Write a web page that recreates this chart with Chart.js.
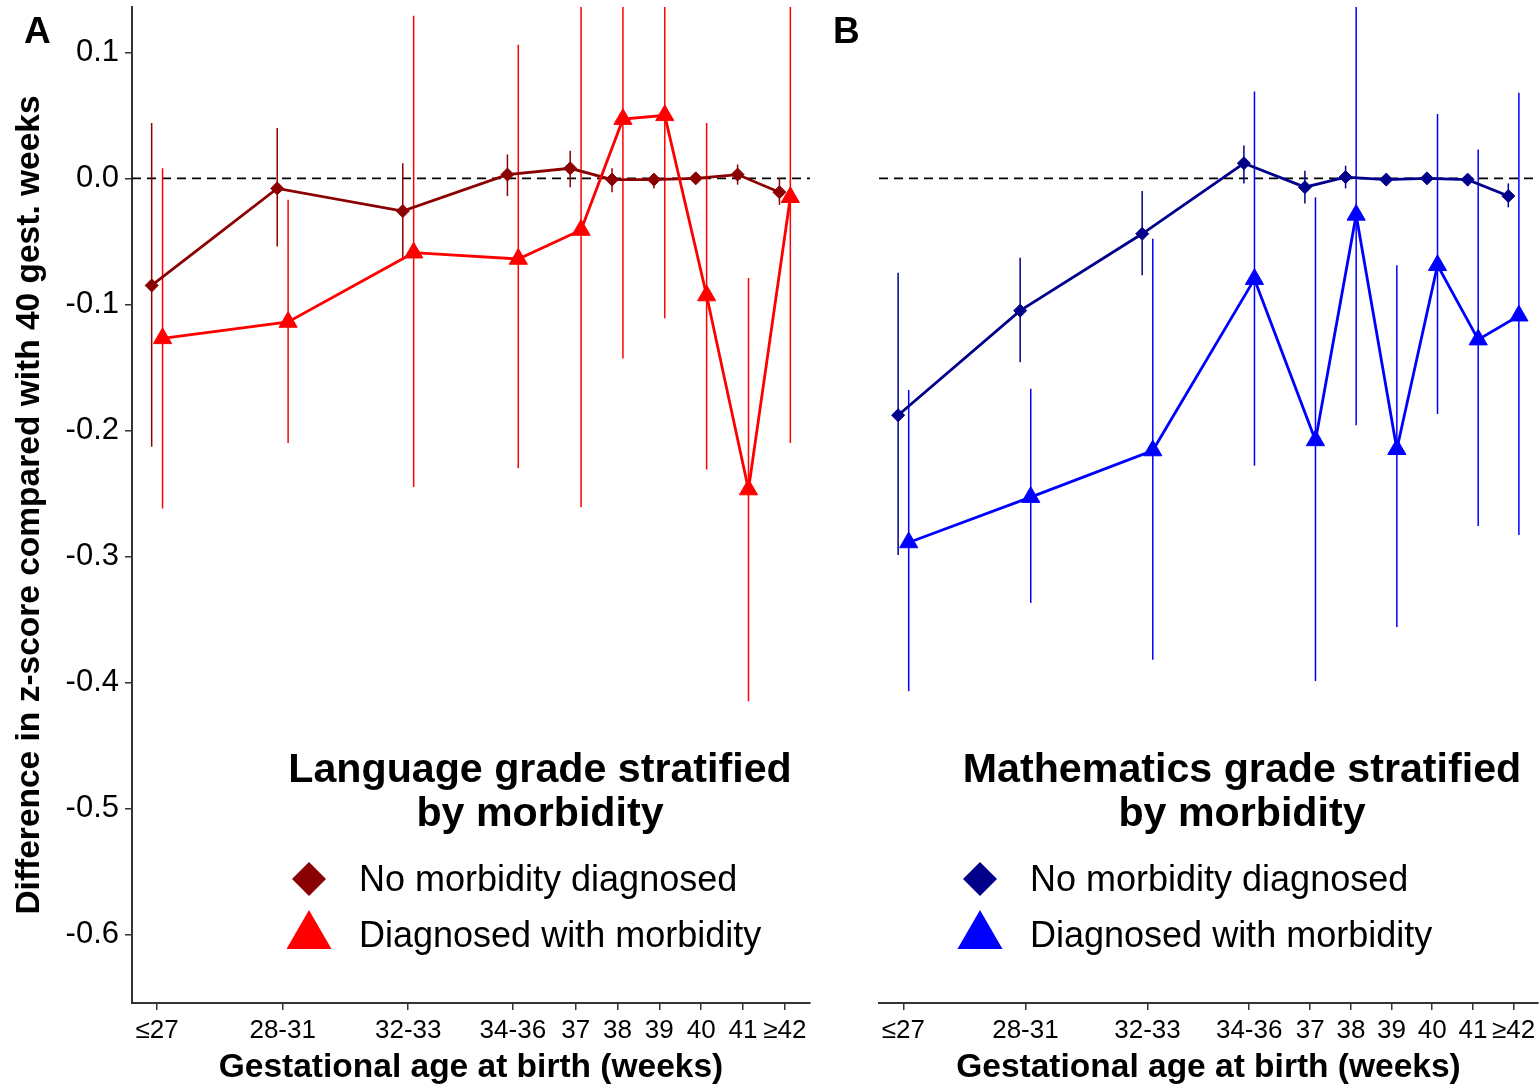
<!DOCTYPE html>
<html>
<head>
<meta charset="utf-8">
<title>Gestational age and school grades by morbidity</title>
<script src="https://cdn.jsdelivr.net/npm/chart.js@4.4.1/dist/chart.umd.min.js"></script>
<style>
  html, body { margin: 0; padding: 0; background: #ffffff; }
  #wrap { position: relative; width: 1540px; height: 1088px; overflow: hidden; }
  canvas { position: absolute; top: 0; }
  #panelA { left: 0; }
  #panelB { left: 820px; }
</style>
</head>
<body>
<div id="wrap">
  <canvas id="panelA" width="820" height="1088"></canvas>
  <canvas id="panelB" width="720" height="1088"></canvas>
</div>
<script>
// Gestational age groups and where each group sits on the week axis
const ageLabels = ['≤27', '28-31', '32-33', '34-36', '37', '38', '39', '40', '41', '≥42'];
const agePos = [27, 30, 33, 35.5, 37, 38, 39, 40, 41, 42];
const yTickValues = [0.1, 0.0, -0.1, -0.2, -0.3, -0.4, -0.5, -0.6];

// Panel A: language grade, difference in z-score vs 40 weeks (estimate, 95% CI)
const langNoMorb   = [-0.085, -0.008, -0.026, 0.003, 0.008, -0.001, -0.001, 0.000, 0.003, -0.011];
const langNoMorbLo = [-0.213, -0.054, -0.063, -0.014, -0.007, -0.011, -0.008, -0.003, -0.005, -0.021];
const langNoMorbHi = [0.044, 0.040, 0.012, 0.019, 0.022, 0.008, 0.004, 0.003, 0.011, 0.000];
const langMorb     = [-0.127, -0.114, -0.059, -0.064, -0.041, 0.047, 0.050, -0.093, -0.247, -0.015];
const langMorbLo   = [-0.262, -0.210, -0.245, -0.230, -0.261, -0.143, -0.111, -0.231, -0.415, -0.210];
const langMorbHi   = [0.008, -0.017, 0.129, 0.106, 0.180, 0.240, 0.215, 0.044, -0.079, 0.185];

// Panel B: mathematics grade
const mathNoMorb   = [-0.188, -0.105, -0.044, 0.012, -0.007, 0.001, -0.001, 0.000, -0.001, -0.014];
const mathNoMorbLo = [-0.299, -0.146, -0.077, -0.004, -0.020, -0.008, -0.005, -0.003, -0.006, -0.023];
const mathNoMorbHi = [-0.075, -0.063, -0.010, 0.026, 0.006, 0.010, 0.004, 0.003, 0.003, -0.004];
const mathMorb     = [-0.289, -0.253, -0.216, -0.080, -0.208, -0.029, -0.215, -0.069, -0.128, -0.109];
const mathMorbLo   = [-0.407, -0.337, -0.382, -0.228, -0.399, -0.196, -0.356, -0.187, -0.276, -0.283];
const mathMorbHi   = [-0.168, -0.167, -0.048, 0.069, -0.015, 0.143, -0.069, 0.051, 0.023, 0.068];

const seriesNames = ['No morbidity diagnosed', 'Diagnosed with morbidity'];

const FONT = "'Liberation Sans', Arial, Helvetica, sans-serif";
const DODGE = 0.13;          // horizontal offset (weeks) between the two groups
const AXIS_COLOR = '#333333';

// keep tick labels from pushing the plot area inwards
function noLabelPadding(s) {
  s.paddingLeft = 0;
  s.paddingRight = 0;
  s.paddingTop = 0;
  s.paddingBottom = 0;
}

// dashed reference line at zero
const zeroLine = {
  id: 'zeroLine',
  beforeDatasetsDraw(chart) {
    const { ctx, chartArea: a, scales: { y } } = chart;
    const py = y.getPixelForValue(0);
    ctx.save();
    ctx.strokeStyle = '#000000';
    ctx.lineWidth = 1.6;
    ctx.setLineDash([9, 6]);
    ctx.beginPath();
    ctx.moveTo(a.left, py);
    ctx.lineTo(a.right, py);
    ctx.stroke();
    ctx.restore();
  }
};

// vertical confidence-interval bars, drawn from each dataset's lo/hi arrays
const errorBars = {
  id: 'errorBars',
  beforeDatasetsDraw(chart) {
    const { ctx, chartArea: a, scales: { x, y } } = chart;
    ctx.save();
    ctx.beginPath();
    ctx.rect(a.left, a.top, a.right - a.left, a.bottom - a.top);
    ctx.clip();
    chart.data.datasets.forEach(ds => {
      ctx.strokeStyle = ds.borderColor;
      ctx.lineWidth = 1.5;
      ds.data.forEach((pt, i) => {
        const px = x.getPixelForValue(pt.x);
        ctx.beginPath();
        ctx.moveTo(px, y.getPixelForValue(ds.ciLow[i]));
        ctx.lineTo(px, y.getPixelForValue(ds.ciHigh[i]));
        ctx.stroke();
      });
    });
    ctx.restore();
  }
};

function diamond(ctx, cx, cy, r) {
  ctx.beginPath();
  ctx.moveTo(cx, cy - r);
  ctx.lineTo(cx + r, cy);
  ctx.lineTo(cx, cy + r);
  ctx.lineTo(cx - r, cy);
  ctx.closePath();
  ctx.fill();
}
function triangle(ctx, cx, cy, r) {
  const h = r * Math.sqrt(3) / 2;
  ctx.beginPath();
  ctx.moveTo(cx, cy - r);
  ctx.lineTo(cx + h, cy + r / 2);
  ctx.lineTo(cx - h, cy + r / 2);
  ctx.closePath();
  ctx.fill();
}

// panel letter and in-plot legend block
const panelLegend = {
  id: 'panelLegend',
  afterDraw(chart, args, opts) {
    const { ctx } = chart;
    ctx.save();
    ctx.fillStyle = '#000000';
    ctx.textBaseline = 'alphabetic';
    ctx.font = `bold 37px ${FONT}`;
    ctx.textAlign = 'left';
    ctx.fillText(opts.letter, opts.letterX, 43);

    ctx.font = `bold 41.2px ${FONT}`;
    ctx.textAlign = 'center';
    opts.title.forEach((line, i) => ctx.fillText(line, opts.titleX, 782 + i * 44));

    const ds = chart.data.datasets;
    const noMorb = ds.find(d => d.marker === 'diamond');
    const morb = ds.find(d => d.marker === 'triangle');
    ctx.fillStyle = noMorb.borderColor;
    diamond(ctx, opts.markerX, 879, 17);
    ctx.fillStyle = morb.borderColor;
    triangle(ctx, opts.markerX, 936, 26);

    ctx.fillStyle = '#000000';
    ctx.font = `36px ${FONT}`;
    ctx.textAlign = 'left';
    ctx.fillText(noMorb.label, opts.textX, 891);
    ctx.fillText(morb.label, opts.textX, 947);
    ctx.restore();
  }
};

function points(values, shift) {
  return values.map((v, i) => ({ x: agePos[i] + shift, y: v }));
}

function makePanel(canvasId, spec) {
  const datasets = [
    {
      label: seriesNames[1],
      marker: 'triangle',
      data: points(spec.morb, DODGE),
      ciLow: spec.morbLo, ciHigh: spec.morbHi,
      borderColor: spec.morbColor,
      backgroundColor: spec.morbColor,
      pointBackgroundColor: spec.morbColor,
      pointBorderColor: spec.morbColor,
      pointStyle: 'triangle',
      pointRadius: 10.5,
      pointBorderWidth: 1,
      borderWidth: 2.8,
      order: 0
    },
    {
      label: seriesNames[0],
      marker: 'diamond',
      data: points(spec.noMorb, -DODGE),
      ciLow: spec.noMorbLo, ciHigh: spec.noMorbHi,
      borderColor: spec.noMorbColor,
      backgroundColor: spec.noMorbColor,
      pointBackgroundColor: spec.noMorbColor,
      pointBorderColor: spec.noMorbColor,
      pointStyle: 'rectRot',
      pointRadius: 6.5,
      pointBorderWidth: 1,
      borderWidth: 2.8,
      order: 1
    }
  ];

  return new Chart(document.getElementById(canvasId), {
    type: 'line',
    data: { datasets },
    options: {
      responsive: false,
      animation: false,
      devicePixelRatio: 1,
      events: [],
      layout: { padding: spec.padding, autoPadding: false },
      plugins: {
        legend: { display: false },
        tooltip: { enabled: false },
        panelLegend: spec.legend
      },
      elements: { line: { tension: 0, fill: false } },
      scales: {
        x: {
          type: 'linear',
          min: 26.4,
          max: 42.6,
          afterBuildTicks: s => { s.ticks = agePos.map(v => ({ value: v })); },
          afterFit: s => { s.height = 85; noLabelPadding(s); },
          ticks: {
            autoSkip: false,
            maxRotation: 0,
            padding: 5,
            color: '#000000',
            font: { family: FONT, size: 26 },
            callback: (v, i) => ageLabels[i]
          },
          grid: { display: true, drawOnChartArea: false, drawTicks: true, tickLength: 7, color: AXIS_COLOR, lineWidth: 1.5 },
          border: { display: true, color: AXIS_COLOR, width: 2 },
          title: {
            display: true,
            text: 'Gestational age at birth (weeks)',
            color: '#000000',
            font: { family: FONT, size: 33.5, weight: 'bold' },
            padding: { top: 0, bottom: 0 }
          }
        },
        y: {
          type: 'linear',
          display: spec.showY,
          min: -0.6545,
          max: 0.136,
          afterBuildTicks: s => { s.ticks = yTickValues.map(v => ({ value: v })); },
          afterFit: s => { if (spec.showY) s.width = 132; noLabelPadding(s); },
          ticks: {
            padding: 6,
            color: '#000000',
            font: { family: FONT, size: 31 },
            callback: v => (Math.abs(v) < 1e-9 ? 0 : v).toFixed(1)
          },
          grid: { display: true, drawOnChartArea: false, drawTicks: true, tickLength: 7, color: AXIS_COLOR, lineWidth: 1.5 },
          border: { display: true, color: AXIS_COLOR, width: 2 },
          title: {
            display: true,
            text: 'Difference in z-score compared with 40 gest. weeks',
            color: '#000000',
            font: { family: FONT, size: 33.5, weight: 'bold' },
            padding: { top: 10, bottom: 0 }
          }
        }
      }
    },
    plugins: [zeroLine, errorBars, panelLegend]
  });
}

makePanel('panelA', {
  noMorb: langNoMorb, noMorbLo: langNoMorbLo, noMorbHi: langNoMorbHi,
  morb: langMorb, morbLo: langMorbLo, morbHi: langMorbHi,
  noMorbColor: '#8b0000', morbColor: '#ff0000',
  showY: true,
  padding: { left: 0, right: 10, top: 7, bottom: 0 },
  legend: {
    letter: 'A', letterX: 24,
    title: ['Language grade stratified', 'by morbidity'], titleX: 540,
    markerX: 309, textX: 359
  }
});

makePanel('panelB', {
  noMorb: mathNoMorb, noMorbLo: mathNoMorbLo, noMorbHi: mathNoMorbHi,
  morb: mathMorb, morbLo: mathMorbLo, morbHi: mathMorbHi,
  noMorbColor: '#00008b', morbColor: '#0000ff',
  showY: false,
  padding: { left: 59, right: 2, top: 7, bottom: 0 },
  legend: {
    letter: 'B', letterX: 13,
    title: ['Mathematics grade stratified', 'by morbidity'], titleX: 422,
    markerX: 160, textX: 210
  }
});
</script>
</body>
</html>
